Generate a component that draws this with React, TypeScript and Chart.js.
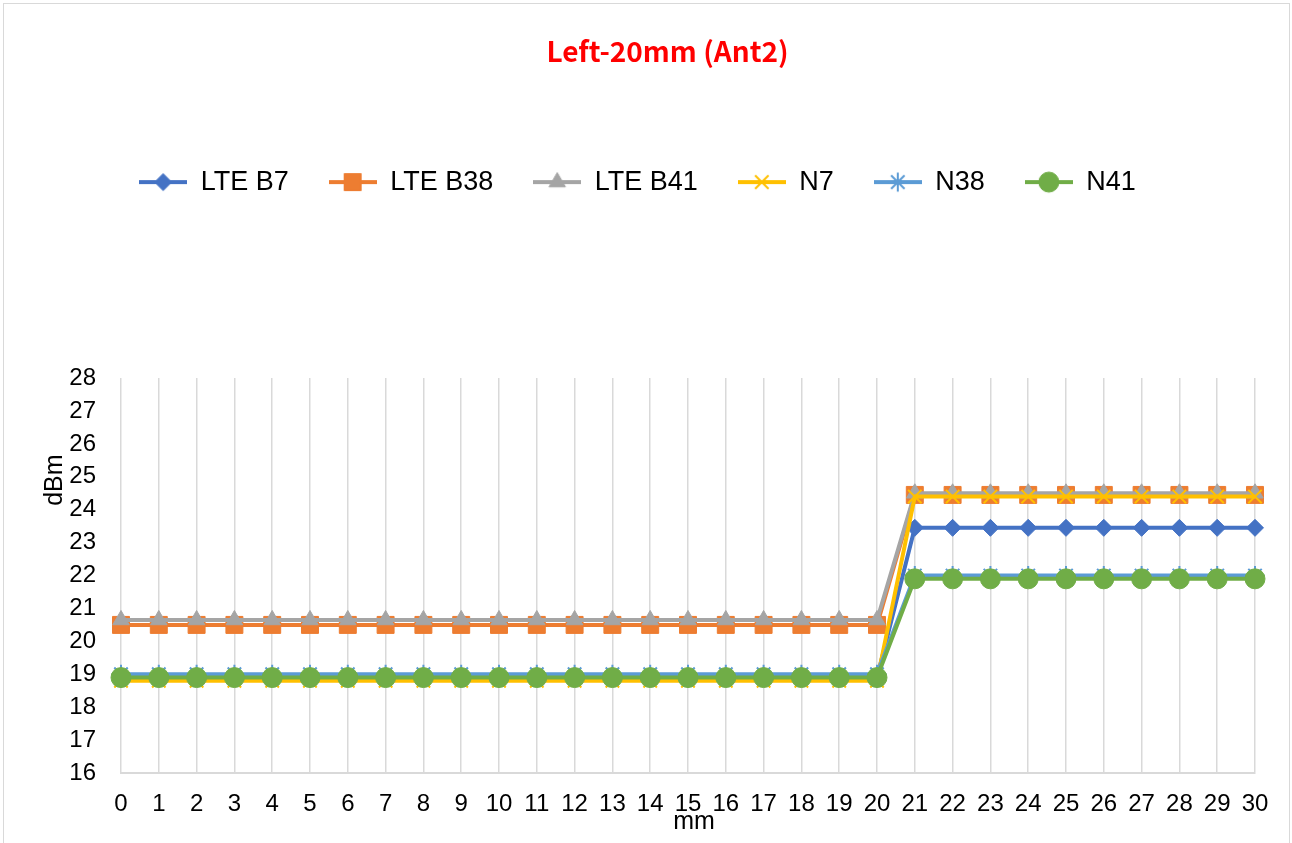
import React, { useEffect, useRef } from 'react';
import { Chart, registerables } from 'chart.js';
import { drawPoint } from 'chart.js/helpers';

Chart.register(...registerables);

// ---- Data ----
const distances = ['0','1','2','3','4','5','6','7','8','9','10','11','12','13','14','15','16','17','18','19','20','21','22','23','24','25','26','27','28','29','30'];

const lteB7 = [18.9,18.9,18.9,18.9,18.9,18.9,18.9,18.9,18.9,18.9,18.9,18.9,18.9,18.9,18.9,18.9,18.9,18.9,18.9,18.9,18.9,23.45,23.45,23.45,23.45,23.45,23.45,23.45,23.45,23.45,23.45];
const lteB38 = [20.5,20.5,20.5,20.5,20.5,20.5,20.5,20.5,20.5,20.5,20.5,20.5,20.5,20.5,20.5,20.5,20.5,20.5,20.5,20.5,20.5,24.45,24.45,24.45,24.45,24.45,24.45,24.45,24.45,24.45,24.45];
const lteB41 = [20.65,20.65,20.65,20.65,20.65,20.65,20.65,20.65,20.65,20.65,20.65,20.65,20.65,20.65,20.65,20.65,20.65,20.65,20.65,20.65,20.65,24.5,24.5,24.5,24.5,24.5,24.5,24.5,24.5,24.5,24.5];
const n7 = [18.8,18.8,18.8,18.8,18.8,18.8,18.8,18.8,18.8,18.8,18.8,18.8,18.8,18.8,18.8,18.8,18.8,18.8,18.8,18.8,18.8,24.4,24.4,24.4,24.4,24.4,24.4,24.4,24.4,24.4,24.4];
const n38 = [19.0,19.0,19.0,19.0,19.0,19.0,19.0,19.0,19.0,19.0,19.0,19.0,19.0,19.0,19.0,19.0,19.0,19.0,19.0,19.0,19.0,22.0,22.0,22.0,22.0,22.0,22.0,22.0,22.0,22.0,22.0];
const n41 = [18.9,18.9,18.9,18.9,18.9,18.9,18.9,18.9,18.9,18.9,18.9,18.9,18.9,18.9,18.9,18.9,18.9,18.9,18.9,18.9,18.9,21.9,21.9,21.9,21.9,21.9,21.9,21.9,21.9,21.9,21.9];

const seriesNames = ['LTE B7', 'LTE B38', 'LTE B41', 'N7', 'N38', 'N41'];
const yTicksMin = 16;
const yTicksMax = 28;

const chartTitle = 'Left-20mm (Ant2)';
const xTitle = 'mm';
const yTitle = 'dBm';

// ---- Styles ----
const FONT = '"Liberation Sans", Arial, sans-serif';
const styles = [
  { color: '#4472C4', pointStyle: 'rectRot', radius: 8.5, bw: 1 },
  { color: '#ED7D31', pointStyle: 'rect', radius: 12, bw: 1 },
  { color: '#A5A5A5', pointStyle: 'triangle', radius: 9.5, bw: 1 },
  { color: '#FFC000', pointStyle: 'crossRot', radius: 9.5, bw: 2 },
  { color: '#5B9BD5', pointStyle: 'star', radius: 9.5, bw: 2 },
  { color: '#70AD47', pointStyle: 'circle', radius: 10, bw: 1 },
];
const seriesData = [lteB7, lteB38, lteB41, n7, n38, n41];

function makeLegendIcon(s: any): HTMLCanvasElement {
  const c = document.createElement('canvas');
  c.width = 48;
  c.height = 26;
  const ctx = c.getContext('2d')!;
  ctx.strokeStyle = s.color;
  ctx.lineWidth = 4;
  ctx.beginPath();
  ctx.moveTo(0, 13);
  ctx.lineTo(48, 13);
  ctx.stroke();
  ctx.fillStyle = s.color;
  ctx.strokeStyle = s.color;
  ctx.lineWidth = s.bw;
  drawPoint(ctx, { pointStyle: s.pointStyle, radius: s.radius, rotation: 0, borderWidth: s.bw } as any, 24, 13);
  return c;
}

const LEGEND_EXTRA = 173.5;
const TITLE_SHIFT = 40;
const LEGEND_SHIFT = 10;

const boxTweaks = {
  id: 'boxTweaks',
  beforeInit(chart: any) {
    const legend = chart.legend;
    if (legend) {
      const origFit = legend.fit;
      legend.fit = function () {
        origFit.call(this);
        this.height += LEGEND_EXTRA;
      };
      const origDraw = legend.draw;
      legend.draw = function (...args: any[]) {
        const ctx = this.ctx;
        ctx.save();
        ctx.translate(LEGEND_SHIFT, 1);
        origDraw.apply(this, args);
        ctx.restore();
      };
    }
    const title = chart.titleBlock;
    if (title) {
      const origDraw = title.draw;
      title.draw = function (...args: any[]) {
        const ctx = this.ctx;
        ctx.save();
        ctx.translate(TITLE_SHIFT, 0);
        origDraw.apply(this, args);
        ctx.restore();
      };
    }
  },
};

const axisTitles = {
  id: 'axisTitles',
  afterDraw(chart: any) {
    const { ctx, chartArea } = chart;
    ctx.save();
    ctx.font = '25px ' + FONT;
    ctx.fillStyle = '#000';
    ctx.textAlign = 'center';
    ctx.textBaseline = 'middle';
    ctx.fillText(xTitle, (chartArea.left + chartArea.right) / 2 + 6, chartArea.bottom + 49);
    ctx.translate(chartArea.left - 66, chartArea.top + 102);
    ctx.rotate(-Math.PI / 2);
    ctx.fillText(yTitle, 0, 0);
    ctx.restore();
  },
};

export default function App() {
  const ref = useRef<HTMLCanvasElement>(null);

  useEffect(() => {
    document.body.style.margin = '0';
    const icons = styles.map(makeLegendIcon);
    const datasets = seriesNames.map((name, i) => ({
      label: name,
      data: seriesData[i],
      borderColor: styles[i].color,
      backgroundColor: styles[i].color,
      borderWidth: 4,
      pointStyle: styles[i].pointStyle,
      pointRadius: styles[i].radius,
      pointHoverRadius: styles[i].radius,
      pointBorderWidth: styles[i].bw,
      pointBackgroundColor: styles[i].color,
      pointBorderColor: styles[i].color,
      tension: 0,
      fill: false,
      order: seriesNames.length - 1 - i,
    }));

    const chart = new Chart(ref.current!, {
      type: 'line',
      data: { labels: distances, datasets },
      options: {
        responsive: false,
        animation: false,
        devicePixelRatio: 1,
        layout: { padding: { left: 0, right: 37, top: 0, bottom: 0 } },
        plugins: {
          title: {
            display: true,
            text: chartTitle,
            color: '#FF0000',
            font: { family: '"Noto Sans CJK SC", "Liberation Sans", sans-serif', size: 28, weight: 'bold', lineHeight: 1.2 },
            padding: { top: 35, bottom: 59 },
          },
          legend: {
            display: true,
            position: 'top',
            labels: {
              usePointStyle: true,
              pointStyleWidth: 48,
              padding: 40,
              color: '#000',
              font: { family: FONT, size: 27 },
              generateLabels: (c: any) =>
                c.data.datasets.map((ds: any, i: number) => ({
                  text: ds.label,
                  pointStyle: icons[i],
                  fillStyle: ds.backgroundColor,
                  strokeStyle: ds.borderColor,
                  lineWidth: 0,
                  hidden: false,
                  datasetIndex: i,
                  fontColor: '#000',
                })),
            },
          },
          tooltip: { enabled: false },
        },
        scales: {
          x: {
            type: 'category',
            offset: false,
            grid: { display: true, color: '#D9D9D9', lineWidth: 1.5, drawTicks: false },
            border: { display: true, color: '#D9D9D9', width: 2 },
            ticks: { color: '#000', font: { family: FONT, size: 24 }, padding: 17, maxRotation: 0, autoSkip: false },
            afterFit: (scale: any) => { scale.height = 70; },
          },
          y: {
            min: yTicksMin,
            max: yTicksMax,
            grid: { display: false, drawTicks: false },
            border: { display: false },
            ticks: { stepSize: 1, color: '#000', font: { family: FONT, size: 24 }, padding: 25 },
            afterFit: (scale: any) => { scale.width = 121; },
          },
        },
      },
      plugins: [boxTweaks, axisTitles],
    } as any);
    return () => chart.destroy();
  }, []);

  return (
    <div style={{ position: 'relative', width: 1292, height: 843, overflow: 'hidden', background: '#fff' }}>
      <div style={{ position: 'absolute', left: 3, top: 3, width: 1287, height: 900, border: '1px solid #D9D9D9', boxSizing: 'border-box' }} />
      <canvas ref={ref} width={1292} height={843} style={{ position: 'absolute', left: 0, top: 0 }} />
    </div>
  );
}
